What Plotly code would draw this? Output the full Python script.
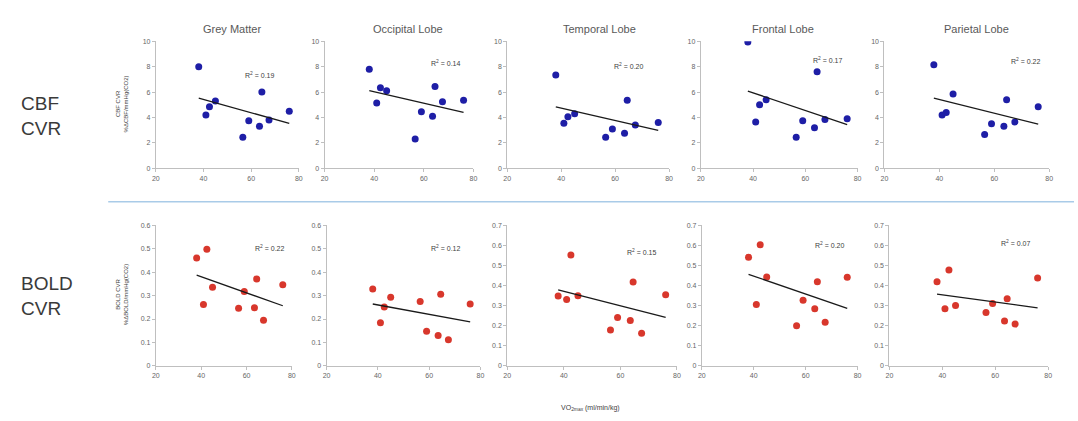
import numpy as np
import plotly.graph_objects as go
from plotly.subplots import make_subplots

# VO2max of the ten participants (ml/min/kg)
vo2max = [38, 41, 42.5, 45, 56.5, 59, 63.5, 64.5, 67.5, 76]

regions = ["Grey Matter", "Occipital Lobe", "Temporal Lobe", "Frontal Lobe", "Parietal Lobe"]

# CBF CVR (%ΔCBF/mmHg CO2) per region
cbf_grey = [8.0, 4.2, 4.85, 5.3, 2.45, 3.75, 3.3, 6.0, 3.8, 4.5]
cbf_occipital = [7.8, 5.15, 6.35, 6.1, 2.3, 4.45, 4.1, 6.45, 5.25, 5.35]
cbf_temporal = [7.35, 3.55, 4.05, 4.3, 2.45, 3.1, 2.75, 5.35, 3.4, 3.6]
cbf_frontal = [9.95, 3.65, 5.0, 5.4, 2.45, 3.75, 3.2, 7.6, 3.85, 3.9]
cbf_parietal = [8.15, 4.2, 4.4, 5.85, 2.65, 3.5, 3.3, 5.4, 3.65, 4.85]

# BOLD CVR (%ΔBOLD/mmHg CO2) per region
bold_grey = [0.46, 0.262, 0.498, 0.335, 0.246, 0.317, 0.248, 0.371, 0.195, 0.346]
bold_occipital = [0.328, 0.184, 0.251, 0.293, 0.275, 0.148, 0.13, 0.306, 0.112, 0.264]
bold_temporal = [0.348, 0.331, 0.552, 0.349, 0.179, 0.241, 0.226, 0.418, 0.162, 0.354]
bold_frontal = [0.541, 0.306, 0.603, 0.443, 0.2, 0.327, 0.285, 0.419, 0.217, 0.441]
bold_parietal = [0.419, 0.285, 0.477, 0.301, 0.266, 0.31, 0.223, 0.334, 0.208, 0.437]

cbf_r2 = ["0.19", "0.14", "0.20", "0.17", "0.22"]
bold_r2 = ["0.22", "0.12", "0.15", "0.20", "0.07"]

bold_ymax = [0.6, 0.6, 0.7, 0.7, 0.7]

rows = [
    [cbf_grey, cbf_occipital, cbf_temporal, cbf_frontal, cbf_parietal],
    [bold_grey, bold_occipital, bold_temporal, bold_frontal, bold_parietal],
]
r2_rows = [cbf_r2, bold_r2]

W, H = 1078, 421
# panel extents in pixels (left, right) for each row, and (top, bottom)
x_px = [
    [(153, 297), (323, 473), (507, 670), (702, 860), (887, 1053)],
    [(153, 290), (325, 480), (507, 678), (703, 860), (892, 1052)],
]
y_px = [(38, 167), (225, 368)]
r2_px = [
    [(258, 72), (445, 60), (630, 63), (830, 57), (1030, 58)],
    [(268, 248), (445, 248), (643, 252), (832, 245), (1020, 243)],
]
title_px = [(230, 25), (407, 25), (600, 25), (785, 25), (980, 25)]

colors = ["#1e1ea6", "#d8372c"]
axis_grey = "#bfbfbf"
font_family = "Liberation Sans, Arial, sans-serif"
tick_font = dict(family=font_family, size=7, color="#666666")

fig = make_subplots(rows=2, cols=5)

for r in range(2):
    for c in range(5):
        yvals = rows[r][c]
        fig.add_trace(go.Scatter(
            x=vo2max, y=yvals, mode="markers",
            marker=dict(size=7, color=colors[r]),
            showlegend=False, hoverinfo="x+y"), row=r + 1, col=c + 1)
        slope, intercept = np.polyfit(vo2max, yvals, 1)
        xs = [min(vo2max), max(vo2max)]
        fig.add_trace(go.Scatter(
            x=xs, y=[slope * v + intercept for v in xs], mode="lines",
            line=dict(color="#1a1a1a", width=1.3),
            showlegend=False, hoverinfo="skip"), row=r + 1, col=c + 1)

        idx = r * 5 + c + 1
        xa = "xaxis" if idx == 1 else f"xaxis{idx}"
        ya = "yaxis" if idx == 1 else f"yaxis{idx}"
        l, rr = x_px[r][c]
        t, b = y_px[r]
        fig.layout[xa].update(
            domain=[l / W, rr / W], range=[20, 80], tickvals=[20, 40, 60, 80],
            showgrid=False, zeroline=False, showline=True, linecolor=axis_grey,
            linewidth=1, ticks="outside", ticklen=3, tickcolor=axis_grey,
            tickfont=tick_font, fixedrange=True)
        if r == 0:
            yrange, dtick = [0, 10], 2
        else:
            yrange, dtick = [0, bold_ymax[c]], 0.1
        tvals = list(np.round(np.arange(0, yrange[1] + 1e-9, dtick), 2))
        ttext = [f"{v:g}" for v in tvals]
        fig.layout[ya].update(
            domain=[1 - b / H, 1 - t / H], range=yrange, tickvals=tvals, ticktext=ttext,
            showgrid=False, zeroline=False, showline=True, linecolor=axis_grey,
            linewidth=1, ticks="outside", ticklen=3, tickcolor=axis_grey,
            tickfont=tick_font, fixedrange=True)

        ax, ay = r2_px[r][c]
        fig.add_annotation(x=ax / W, y=1 - ay / H, xref="paper", yref="paper",
                           xanchor="center", yanchor="middle",
                           text=f"R<sup>2</sup> = {r2_rows[r][c]}", showarrow=False,
                           font=dict(family=font_family, size=7, color="#404040"))

for name, (tx, ty) in zip(regions, title_px):
    fig.add_annotation(x=tx / W, y=1 - ty / H, xref="paper", yref="paper", text=name,
                       xanchor="center", yanchor="middle", showarrow=False,
                       font=dict(family=font_family, size=11, color="#595959"))

row_label_font = dict(family=font_family, size=19, color="#3a3a3a")
fig.add_annotation(x=15 / W, y=1 - 114 / H, xref="paper", yref="paper", xanchor="left",
                   yanchor="middle", text="CBF<br>CVR", showarrow=False, align="left",
                   font=row_label_font)
fig.add_annotation(x=15 / W, y=1 - 297 / H, xref="paper", yref="paper", xanchor="left",
                   yanchor="middle", text="BOLD<br>CVR", showarrow=False, align="left",
                   font=row_label_font)

ytitle_font = dict(family=font_family, size=6, color="#404040")
fig.add_annotation(x=119 / W, y=1 - 102 / H, xref="paper", yref="paper", textangle=-90,
                   xanchor="center", yanchor="middle",
                   text="CBF CVR<br>%ΔCBF/mmHg(CO2)", showarrow=False, font=ytitle_font)
fig.add_annotation(x=119 / W, y=1 - 296 / H, xref="paper", yref="paper", textangle=-90,
                   xanchor="center", yanchor="middle",
                   text="BOLD CVR<br>%ΔBOLD/mmHg(CO2)", showarrow=False, font=ytitle_font)

fig.add_annotation(x=591 / W, y=1 - 411 / H, xref="paper", yref="paper",
                   xanchor="center", yanchor="middle",
                   text="VO<sub>2max</sub> (ml/min/kg)", showarrow=False,
                   font=dict(family=font_family, size=7, color="#404040"))

# separator between the two rows
fig.add_shape(type="line", xref="paper", yref="paper", x0=105 / W, x1=1.0,
              y0=1 - 201 / H, y1=1 - 201 / H, line=dict(color="#a9cbe8", width=1.5))

fig.update_layout(width=W, height=H, margin=dict(l=0, r=0, t=0, b=0),
                  paper_bgcolor="white", plot_bgcolor="white")

fig.write_html("out.html", config={"displayModeBar": False})
